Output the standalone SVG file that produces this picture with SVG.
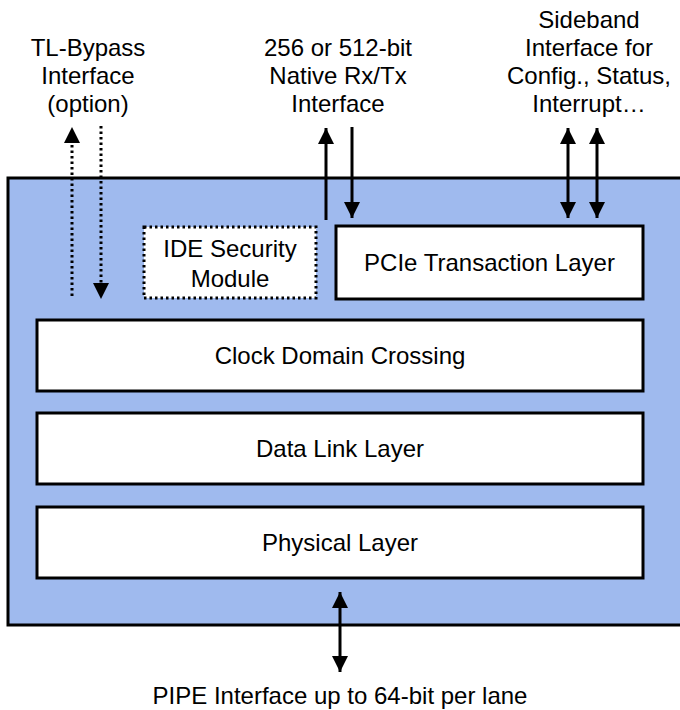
<svg xmlns="http://www.w3.org/2000/svg" width="680" height="710" viewBox="0 0 680 710">
<defs>
<style>
text{font-family:"Liberation Sans",Arial,sans-serif;font-size:24px;fill:#000;text-anchor:middle}
.box{fill:#fff;stroke:#000;stroke-width:3}
.ln{stroke:#000;stroke-width:3;fill:none}
.dot{stroke:#000;stroke-width:3;fill:none;stroke-dasharray:2.5 3}
</style>
<marker id="ah" markerUnits="userSpaceOnUse" markerWidth="16" markerHeight="16" viewBox="0 0 16 16" refX="16" refY="8" orient="auto">
<path d="M0,0 L16,8 L0,16 z" fill="#000"/>
</marker>
<marker id="ahs" markerUnits="userSpaceOnUse" markerWidth="16" markerHeight="16" viewBox="0 0 16 16" refX="0" refY="8" orient="auto">
<path d="M16,0 L0,8 L16,16 z" fill="#000"/>
</marker>
</defs>
<rect id="outer" x="8" y="178" width="690" height="447" fill="#9FBAEE" stroke="#000" stroke-width="3"/>
<g id="ide"><rect x="144" y="227" width="172" height="71" fill="#fff" stroke="#000" stroke-width="3" stroke-dasharray="2.5 3"/><text x="230" y="257">IDE Security</text><text x="230" y="287">Module</text></g>
<g id="tl"><rect class="box" x="336" y="226" width="307" height="73"/><text x="489.5" y="271">PCIe Transaction Layer</text></g>
<g id="cdc"><rect class="box" x="37" y="320" width="606" height="71"/><text x="340" y="364">Clock Domain Crossing</text></g>
<g id="dll"><rect class="box" x="37" y="413" width="606" height="71"/><text x="340" y="457">Data Link Layer</text></g>
<g id="phy"><rect class="box" x="37" y="507" width="606" height="71"/><text x="340" y="551">Physical Layer</text></g>
<g id="labels">
<text x="88" y="56">TL-Bypass</text><text x="88" y="84">Interface</text><text x="88" y="112">(option)</text>
<text x="338" y="56">256 or 512-bit</text><text x="338" y="84">Native Rx/Tx</text><text x="338" y="112">Interface</text>
<text x="589" y="28">Sideband</text><text x="589" y="56">Interface for</text><text x="589" y="84">Config., Status,</text><text x="589" y="112">Interrupt…</text>
<text x="340" y="704">PIPE Interface up to 64-bit per lane</text>
</g>
<g id="connectors">
<line class="dot" x1="72" y1="296" x2="72" y2="142"/>
<path d="M64,143 L72,127 L80,143 z" fill="#000"/>
<line class="dot" x1="101" y1="126" x2="101" y2="284"/>
<path d="M93,283 L101,299 L109,283 z" fill="#000"/>
<line class="ln" x1="326" y1="220" x2="326" y2="128" marker-end="url(#ah)"/>
<line class="ln" x1="352" y1="127" x2="352" y2="218" marker-end="url(#ah)"/>
<line class="ln" x1="568" y1="128" x2="568" y2="218" marker-start="url(#ahs)" marker-end="url(#ah)"/>
<line class="ln" x1="597" y1="128" x2="597" y2="218" marker-start="url(#ahs)" marker-end="url(#ah)"/>
<line class="ln" x1="340" y1="592" x2="340" y2="672" marker-start="url(#ahs)" marker-end="url(#ah)"/>
</g>
</svg>
